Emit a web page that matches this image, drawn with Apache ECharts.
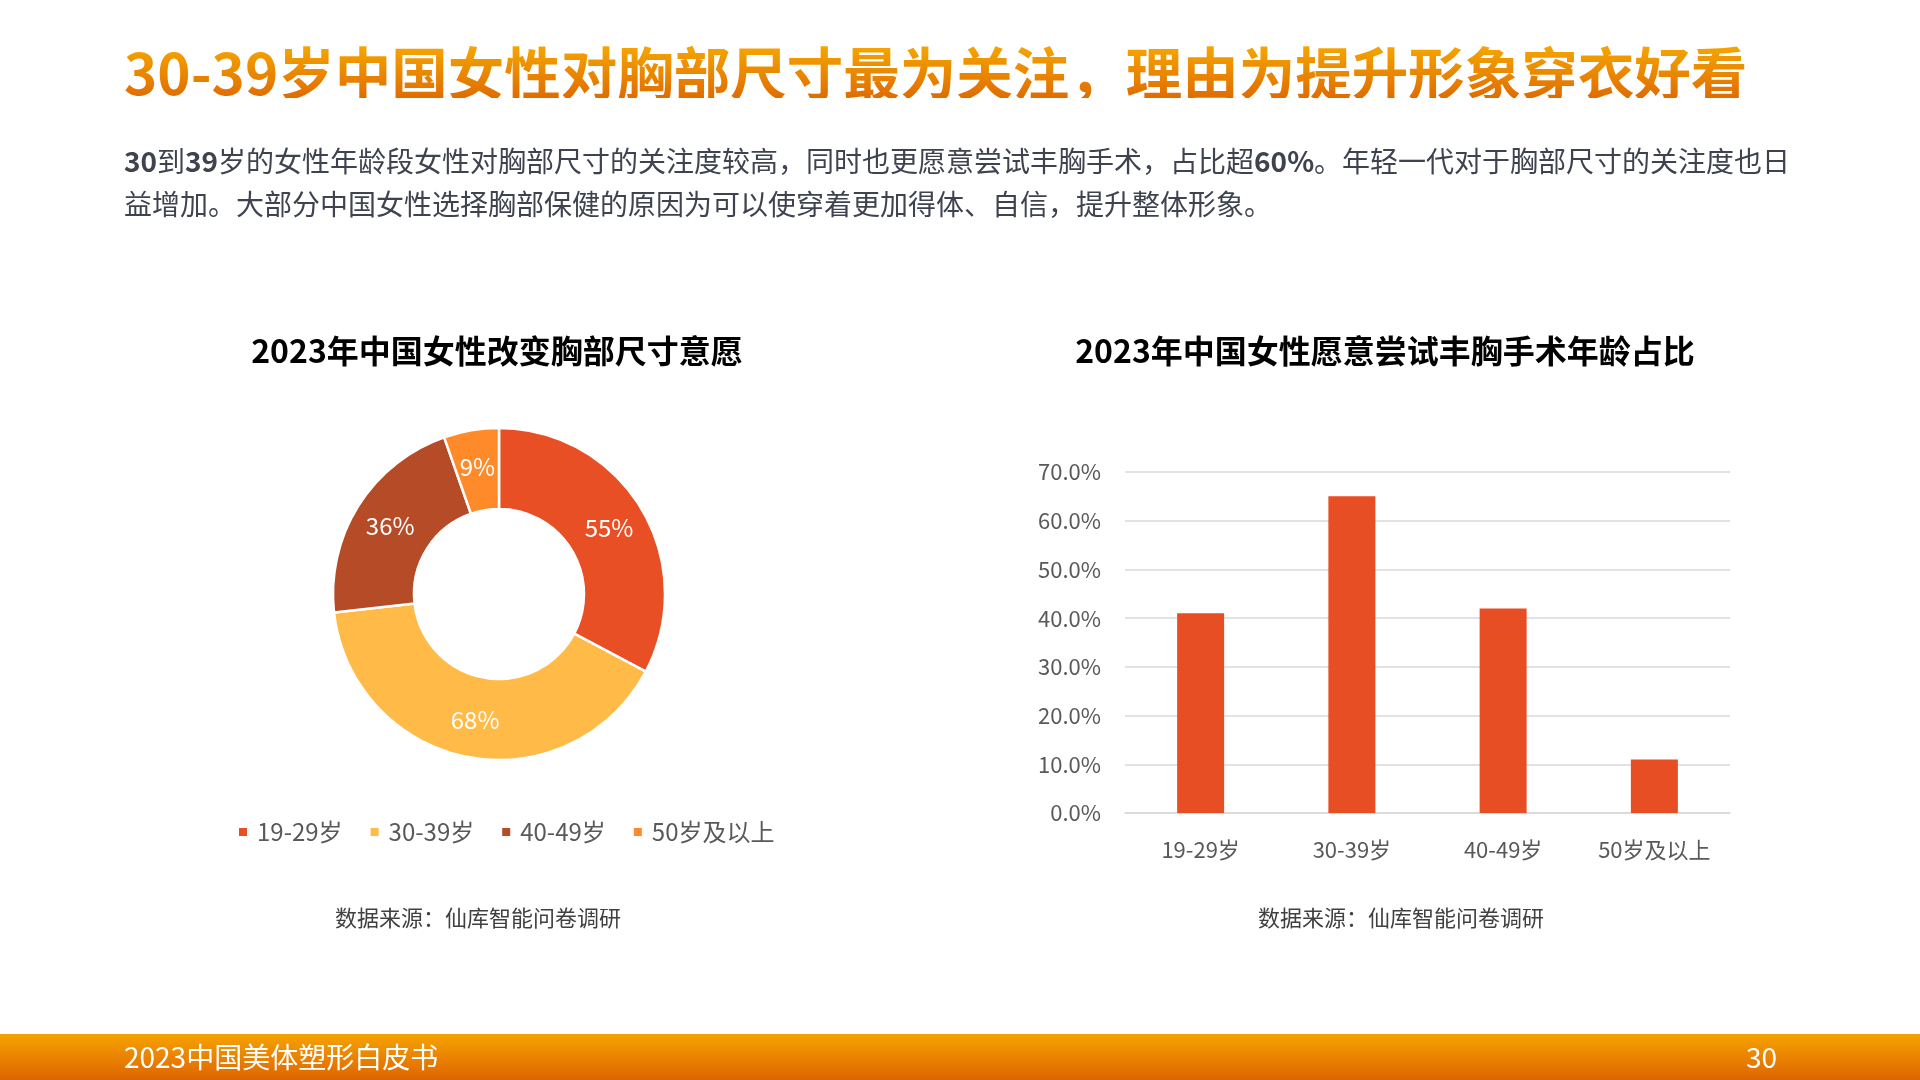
<!DOCTYPE html>
<html><head><meta charset="utf-8">
<script src="https://cdn.jsdelivr.net/npm/echarts@6/dist/echarts.min.js"></script>
<style>
html,body{margin:0;padding:0;background:#fff}
#wrap{position:relative;width:1920px;height:1080px}
#c{width:1920px;height:1080px}
#title{position:absolute;left:124px;top:42px;margin:0;font:bold 56.5px "Noto Sans CJK SC","Noto Sans",sans-serif;line-height:56px;white-space:nowrap;
  background:linear-gradient(180deg,#F7AA00 0%,#E06C00 100%);-webkit-background-clip:text;background-clip:text;color:transparent;-webkit-text-fill-color:transparent}
</style>
</head><body><div id="wrap"><div id="c"></div><h1 id="title"></h1></div>
<script>
const categories = ['19-29岁', '30-39岁', '40-49岁', '50岁及以上'];
const pieValues = [55, 68, 36, 9];
const barValues = [41, 65, 42, 11];
const yTicks = [0, 10, 20, 30, 40, 50, 60, 70];
const pieColors = ['#E94F24', '#FFBA47', '#B54B27', '#FF8A29'];
const barColor = '#E84E23';
const mainTitle = '30-39岁中国女性对胸部尺寸最为关注，理由为提升形象穿衣好看';
const descLine1 = '{b|30}到{b|39}岁的女性年龄段女性对胸部尺寸的关注度较高，同时也更愿意尝试丰胸手术，占比超{b|60%}。年轻一代对于胸部尺寸的关注度也日';
const descLine2 = '益增加。大部分中国女性选择胸部保健的原因为可以使穿着更加得体、自信，提升整体形象。';
const leftTitle = '2023年中国女性改变胸部尺寸意愿';
const rightTitle = '2023年中国女性愿意尝试丰胸手术年龄占比';
const sourceText = '数据来源：仙库智能问卷调研';
const footerText = '2023中国美体塑形白皮书';
const pageNo = '30';

document.getElementById('title').textContent = mainTitle;

const FONT = '"Noto Sans CJK SC", "Noto Sans", sans-serif';
const chart = echarts.init(document.getElementById('c'));
const G = echarts.graphic;

chart.setOption({
  backgroundColor: '#fff',
  textStyle: { fontFamily: FONT },
  graphic: [
    { type: 'text', left: 124, top: 167 - 20, style: { text: descLine1, fontSize: 28, fontFamily: FONT, fill: '#3f4350',
      rich: { b: { fontSize: 28, fontWeight: 'bold', fontFamily: FONT, fill: '#3f4350' } } } },
    { type: 'text', left: 124, top: 210 - 20, style: { text: descLine2, fontSize: 28, fontFamily: FONT, fill: '#3f4350' } },
    { type: 'text', x: 497, y: 351, style: { text: leftTitle, font: 'bold 32px ' + FONT, fill: '#000', align: 'center', verticalAlign: 'middle' } },
    { type: 'text', x: 1385, y: 351, style: { text: rightTitle, font: 'bold 32px ' + FONT, fill: '#000', align: 'center', verticalAlign: 'middle' } },
    { type: 'text', x: 478, y: 918, style: { text: sourceText, fontSize: 22, fontFamily: FONT, fill: '#404040', align: 'center', verticalAlign: 'middle' } },
    { type: 'text', x: 1401, y: 918, style: { text: sourceText, fontSize: 22, fontFamily: FONT, fill: '#404040', align: 'center', verticalAlign: 'middle' } },
    { type: 'rect', shape: { x: 0, y: 1034, width: 1920, height: 46 },
      style: { fill: new G.LinearGradient(0, 0, 0, 1, [{ offset: 0, color: '#F5A300' }, { offset: 1, color: '#DF6400' }]) } },
    { type: 'text', x: 124, y: 1057, style: { text: footerText, fontSize: 28, fontFamily: FONT, fill: '#fff', verticalAlign: 'middle' } },
    { type: 'text', x: 1777, y: 1057, style: { text: pageNo, fontSize: 28, fontFamily: FONT, fill: '#fff', align: 'right', verticalAlign: 'middle' } }
  ],
  legend: {
    data: categories, left: 232, top: 815, icon: 'rect', itemWidth: 10, itemHeight: 10, itemGap: 26,
    selectedMode: false,
    textStyle: { fontSize: 24, color: '#595959', fontFamily: FONT, padding: [0, 0, 0, 4] }
  },
  grid: { left: 1125, top: 472, width: 605, height: 341, containLabel: false },
  xAxis: {
    type: 'category', data: categories,
    axisLine: { show: true, lineStyle: { color: '#d9d9d9', width: 1.5 } },
    axisTick: { show: false },
    axisLabel: { fontSize: 22, color: '#595959', margin: 26, fontFamily: FONT }
  },
  yAxis: {
    type: 'value', min: yTicks[0], max: yTicks[yTicks.length - 1], interval: yTicks[1] - yTicks[0],
    axisLine: { show: false }, axisTick: { show: false },
    splitLine: { lineStyle: { color: '#d9d9d9', width: 1.5 } },
    axisLabel: { fontSize: 22, color: '#595959', margin: 24, fontFamily: FONT, formatter: v => v.toFixed(1) + '%' }
  },
  series: [
    {
      type: 'pie', center: [499, 594], radius: [85, 166], startAngle: 90, clockwise: true,
      legendHoverLink: false, silent: true,
      itemStyle: { borderColor: '#fff', borderWidth: 2.5 },
      label: { show: true, position: 'inside', formatter: '{c}%', color: '#fff', fontSize: 24, fontFamily: FONT },
      labelLine: { show: false },
      data: categories.map((n, i) => ({ name: n, value: pieValues[i], itemStyle: { color: pieColors[i] } }))
    },
    {
      type: 'bar', data: barValues, barWidth: 47, itemStyle: { color: barColor }, silent: true
    }
  ]
});
</script></body></html>
